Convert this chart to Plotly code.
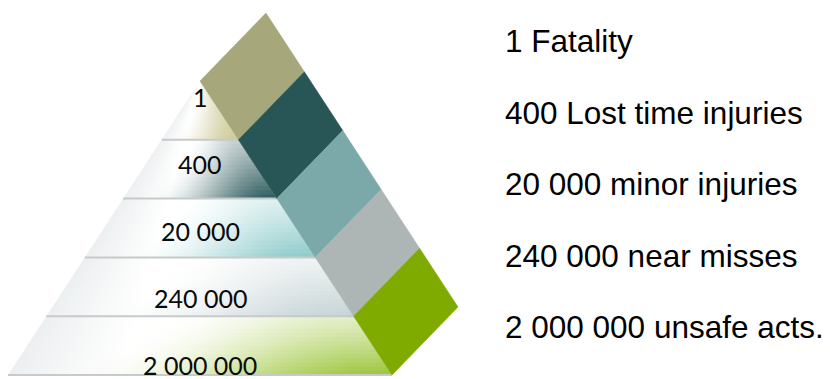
import plotly.graph_objects as go

# ---- data ----
counts = ["1", "400", "20 000", "240 000", "2 000 000"]
descriptions = ["1 Fatality", "400 Lost time injuries", "20 000 minor injuries",
                "240 000 near misses", "2 000 000 unsafe acts."]
side_colors = ["#a6a77b", "#285555", "#7ba8a8", "#aeb6b5", "#7faa00"]
tint_colors = ["#cdc994", "#2a585a", "#8ccaca", "#c6d3d5", "#9cc53a"]

# ---- layout constants (pixels) ----
W, H = 830, 379
apex_x, apex_y = 200, 81
base_y = 375
slope = 192 / 294          # half-width per pixel of height
depth = (66, -68)          # side face offset
n = len(counts)
band_h = (base_y - apex_y) / n
label_y0, label_step = 97, 67
desc_x, desc_y0, desc_step = 503, 41, 71.5
slices = 14


def hx(y):
    return (y - apex_y) * slope


def hex2rgb(h):
    h = h.lstrip("#")
    return tuple(int(h[i:i + 2], 16) for i in (0, 2, 4))


def mix(a, b, t):
    return tuple(a[i] + (b[i] - a[i]) * t for i in range(3))


def smooth(e0, e1, x):
    t = min(max((x - e0) / (e1 - e0), 0), 1)
    return t * t * (3 - 2 * t)


fig = go.Figure()

edge_base = hex2rgb("#eceff0")
white = (255, 255, 255)

for i in range(n):
    tint = hex2rgb(tint_colors[i])
    y_top = apex_y + i * band_h
    for s in range(slices):
        ya = y_top + s * band_h / slices
        yb = y_top + (s + 1) * band_h / slices + 0.7
        yb = min(yb, base_y)
        v = (s + 0.5) / slices
        xl_b, xr_b = apex_x - hx(yb), apex_x + hx(yb)
        xl_a, xr_a = apex_x - hx(ya), apex_x + hx(ya)
        u0 = 0.40 - 0.22 * v
        strength = 0.28 + 0.72 * v ** 1.2
        cs = []
        for k in range(11):
            u = k / 10
            base = mix(edge_base, white, min(u / 0.3, 1))
            w = smooth(u0, 1.0, u) * strength
            c = mix(base, tint, w)
            cs.append([u, "rgb(%d,%d,%d)" % tuple(int(round(x)) for x in c)])
        fig.add_trace(go.Scatter(
            x=[xl_a, xr_a, xr_b, xl_b, xl_a],
            y=[ya, ya, yb, yb, ya],
            mode="lines", line=dict(width=0), fill="toself",
            fillgradient=dict(type="horizontal", colorscale=cs,
                              start=xl_b, stop=xr_b),
            hoverinfo="skip", showlegend=False))

# separator lines
for i in range(1, n + 1):
    y = apex_y + i * band_h
    fig.add_trace(go.Scatter(
        x=[apex_x - hx(y), apex_x + hx(y)], y=[y, y], mode="lines",
        line=dict(color="#c6caca", width=2), hoverinfo="skip", showlegend=False))

# side faces
for i in range(n):
    ya = apex_y + i * band_h
    yb = apex_y + (i + 1) * band_h
    pa = (apex_x + hx(ya), ya)
    pb = (apex_x + hx(yb), yb)
    xs = [pa[0], pa[0] + depth[0], pb[0] + depth[0], pb[0], pa[0]]
    ys = [pa[1], pa[1] + depth[1], pb[1] + depth[1], pb[1], pa[1]]
    fig.add_trace(go.Scatter(
        x=xs, y=ys, mode="lines", line=dict(width=0.5, color=side_colors[i]),
        fill="toself", fillcolor=side_colors[i], hoverinfo="skip", showlegend=False))

# labels
for i in range(n):
    fig.add_annotation(x=apex_x, y=label_y0 + i * label_step, text=counts[i],
                       xref="x", yref="y", xanchor="center", yanchor="middle",
                       showarrow=False,
                       font=dict(family="Lato", size=25, color="#0a0a0a"))
    fig.add_annotation(x=desc_x, y=desc_y0 + i * desc_step, text=descriptions[i],
                       xref="x", yref="y", xanchor="left", yanchor="middle",
                       showarrow=False,
                       font=dict(family="Liberation Sans, Arial", size=31.5, color="#000000"))

fig.update_layout(
    width=W, height=H, margin=dict(l=0, r=0, t=0, b=0),
    paper_bgcolor="white", plot_bgcolor="white",
    xaxis=dict(range=[0, W], visible=False, fixedrange=True),
    yaxis=dict(range=[H, 0], visible=False, fixedrange=True),
)

fig.write_html("out.html")
